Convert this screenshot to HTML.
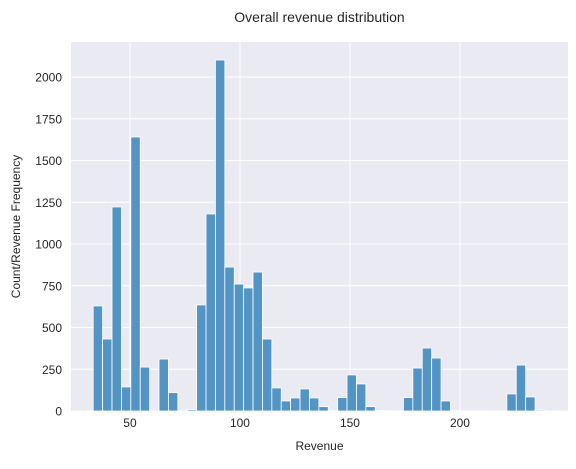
<!DOCTYPE html>
<html><head><meta charset="utf-8"><style>
body{margin:0;background:#fff;font-family:"Liberation Sans",Arial,sans-serif;}
</style></head><body>
<svg id="chart" width="576" height="464" xmlns="http://www.w3.org/2000/svg" font-family="Liberation Sans, Arial, sans-serif"></svg>
<script>
const binStart = 33.3;
const binWidth = 4.273;
const counts = [629,431,1222,144,1641,263,0,311,110,0,8,635,1180,2102,862,760,737,832,431,138,60,78,132,78,26,2,80,216,162,26,3,0,0,80,257,377,317,60,2,0,0,0,0,0,102,275,84,6];
const yTicks = [0,250,500,750,1000,1250,1500,1750,2000];
const xTicks = [50,100,150,200];

const svg = document.getElementById('chart');
const NS = 'http://www.w3.org/2000/svg';
const L=71,R=568,T=42,B=411;
const xMin=23.2,xMax=249.1,yMin=0,yMax=2210;
const xs = v => L+(v-xMin)/(xMax-xMin)*(R-L);
const ys = v => B-(v-yMin)/(yMax-yMin)*(B-T);
function mk(tag, attrs){const e=document.createElementNS(NS,tag);for(const k in attrs)e.setAttribute(k,attrs[k]);svg.appendChild(e);return e;}

const bg = mk('rect',{x:L,y:T,width:R-L,height:B-T,fill:'#eaeaf2'});



yTicks.forEach(v=>{
  const g = mk('line',{x1:L,x2:R,y1:ys(v),y2:ys(v),stroke:'#fff','stroke-width':1});
  
  
  const t = mk('text',{x:L-9,y:ys(v)+4.5,'text-anchor':'end','font-size':12,fill:'#262626'});
  t.textContent=v;
  
  
});
xTicks.forEach(v=>{
  const g = mk('line',{x1:xs(v),x2:xs(v),y1:T,y2:B,stroke:'#fff','stroke-width':1});
  
  
  const t = mk('text',{x:xs(v),y:B+16,'text-anchor':'middle','font-size':12,fill:'#262626'});
  t.textContent=v;
  
  
});

counts.forEach((c,i)=>{
  if(c<=0) return;
  const x0=xs(binStart+i*binWidth), x1=xs(binStart+(i+1)*binWidth);
  const r = mk('rect',{x:x0,y:ys(c),width:x1-x0,height:ys(0)-ys(c),fill:'rgb(82,148,195)',stroke:'#fff','stroke-width':0.8});
  
  
});

const title = mk('text',{x:(L+R)/2,y:22,'text-anchor':'middle','font-size':14,fill:'#262626'});
title.textContent='Overall revenue distribution';



const xl = mk('text',{x:(L+R)/2,y:450,'text-anchor':'middle','font-size':12,fill:'#262626'});
xl.textContent='Revenue';



const yl = mk('text',{x:0,y:0,'text-anchor':'middle','font-size':12,fill:'#262626',transform:'translate(20,'+((T+B)/2)+') rotate(-90)'});
yl.textContent='Count/Revenue Frequency';


</script>
</body></html>
